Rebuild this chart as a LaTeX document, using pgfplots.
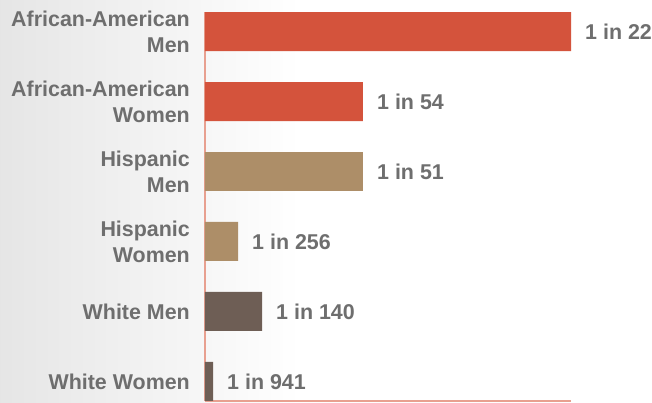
\documentclass[border=0pt]{standalone}
\usepackage{pgfplots}
\pgfplotsset{compat=1.18}
\usepackage{fontspec}
\setmainfont{Liberation Sans}
\usetikzlibrary{backgrounds}
\definecolor{aacol}{RGB}{212,83,60}
\definecolor{hicol}{RGB}{173,142,104}
\definecolor{whcol}{RGB}{110,94,85}
\definecolor{axcol}{RGB}{232,160,144}
\definecolor{txcol}{RGB}{110,110,110}
\begin{document}
\begin{tikzpicture}
\useasboundingbox (-205bp,-2bp) rectangle (447bp,401bp);
\begin{scope}[on background layer]
\fill[white] (-205bp,-2bp) rectangle (447bp,401bp);
\shade[left color=black!10, right color=white] (-205bp,-2bp) rectangle (95bp,401bp);
\end{scope}
\begin{axis}[
  at={(0,0)}, anchor=south west,
  scale only axis, width=366bp, height=389bp,
  xmin=0, xmax=4.545, ymin=-0.28, ymax=5.28,
  axis x line*=bottom, axis y line*=left,
  axis line style={draw=axcol, line width=1.3bp},
  xtick=\empty,
  ytick={0,1,2,3,4,5},
  yticklabels={White Women, White Men, Hispanic\\Women, Hispanic\\Men, African-American\\Women, African-American\\Men},
  major tick length=0pt,
  yticklabel style={align=right, inner sep=0pt, xshift=-15bp, font=\fontsize{21.5}{26}\selectfont\bfseries, text=txcol},
  xbar, bar width=0.557, bar shift=0pt,
  point meta=explicit symbolic,
  nodes near coords,
  nodes near coords style={anchor=west, inner sep=0pt, xshift=14bp, font=\fontsize{21.5}{26}\selectfont\bfseries, text=txcol},
  clip=false,
]
\addplot[draw=none, fill=aacol] coordinates {(4.545,5) [1 in 22] (1.962,4) [1 in 54]};
\addplot[draw=none, fill=hicol] coordinates {(1.962,3) [1 in 51] (0.41,2) [1 in 256]};
\addplot[draw=none, fill=whcol] coordinates {(0.708,1) [1 in 140] (0.10,0) [1 in 941]};
\end{axis}
\end{tikzpicture}
\end{document}
